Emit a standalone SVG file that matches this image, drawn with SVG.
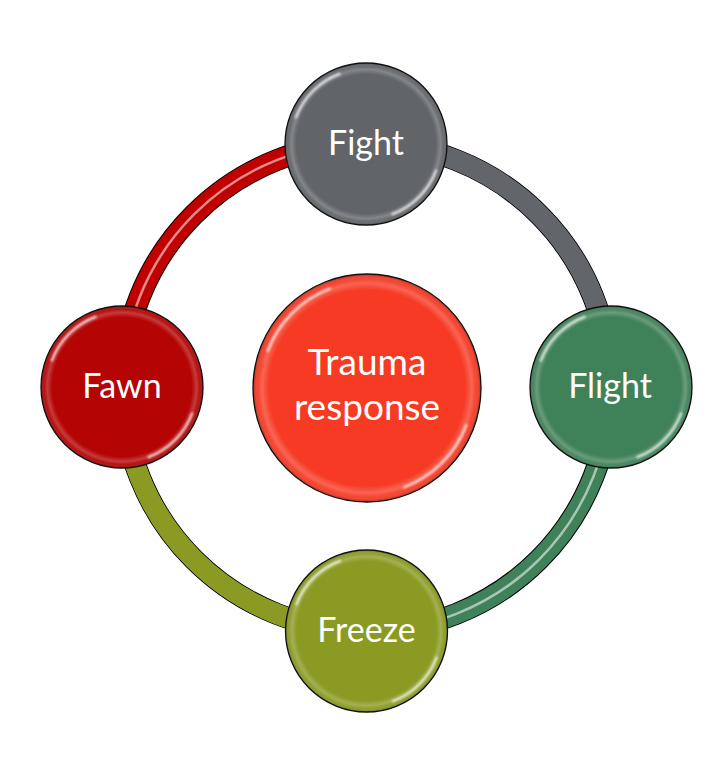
<svg xmlns="http://www.w3.org/2000/svg" width="714" height="758" viewBox="0 0 714 758">
<defs>
<radialGradient id="bevel" cx="0.5" cy="0.5" r="0.5">
<stop offset="0" stop-color="#fff" stop-opacity="0"/>
<stop offset="0.86" stop-color="#fff" stop-opacity="0"/>
<stop offset="0.92" stop-color="#fff" stop-opacity="0.22"/>
<stop offset="0.96" stop-color="#fff" stop-opacity="0.05"/>
<stop offset="1" stop-color="#000" stop-opacity="0.3"/>
</radialGradient>
<filter id="soft" x="-10%" y="-10%" width="120%" height="120%"><feGaussianBlur stdDeviation="0.8"/></filter>
</defs>
<style>
.outline{fill:none;stroke:#000;stroke-width:22}
.tube{fill:none;stroke-width:20}
.edge{fill:none;stroke:#fff;stroke-width:18;opacity:0.18}
.shine{fill:none;stroke:#fff;stroke-width:2.5;opacity:0.55}
.node-fill{stroke:#111;stroke-width:1.3}
.bev{fill:url(#bevel)}
.spec{fill:none;stroke:#fff;stroke-width:2.5;stroke-opacity:0.75;stroke-dasharray:50 130;stroke-dashoffset:-20}
text{font-family:Lato,"Open Sans","Liberation Sans",sans-serif;fill:#fff;text-anchor:middle}
.lbl{font-size:34px}
.big{font-size:37px}
</style>
<rect width="714" height="758" fill="#fff"/>
<g id="connectors">
<path class="outline" d="M366.5,143 A244,244 0 0 1 610.5,387"/>
<path class="tube" stroke="#7a7c80" d="M366.5,143 A244,244 0 0 1 610.5,387"/>
<path class="tube" stroke="#626569" stroke-width="15" d="M366.5,143 A244,244 0 0 1 610.5,387"/>
<path class="outline" d="M610.5,387 A244,244 0 0 1 366.5,631"/>
<path class="tube" stroke="#3f8158" d="M610.5,387 A244,244 0 0 1 366.5,631"/>
<path class="shine" d="M610.5,387 A244,244 0 0 1 366.5,631"/>
<path class="outline" d="M366.5,631 A244,244 0 0 1 122.5,387"/>
<path class="tube" stroke="#a3b04a" d="M366.5,631 A244,244 0 0 1 122.5,387"/>
<path class="tube" stroke="#8a9a22" stroke-width="15" d="M366.5,631 A244,244 0 0 1 122.5,387"/>
<path class="outline" d="M122.5,387 A244,244 0 0 1 366.5,143"/>
<path class="tube" stroke="#c00000" d="M122.5,387 A244,244 0 0 1 366.5,143"/>
<path class="shine" d="M122.5,387 A244,244 0 0 1 366.5,143"/>
</g>
<g id="center">
<circle class="node-fill" cx="367" cy="388" r="114" fill="#f63a24"/>
<circle class="bev" cx="367" cy="388" r="114"/>
<circle class="spec" cx="367" cy="388" r="106" pathLength="360" filter="url(#soft)"/>
<text class="big" x="367" y="375">Trauma</text>
<text class="big" x="367" y="420">response</text>
</g>
<g id="fight">
<circle class="node-fill" cx="366" cy="144" r="81" fill="#616468"/>
<circle class="bev" cx="366" cy="144" r="81"/>
<circle class="spec" cx="366" cy="144" r="75" pathLength="360" filter="url(#soft)"/>
<text class="lbl" x="366" y="155">Fight</text>
</g>
<g id="flight">
<circle class="node-fill" cx="611" cy="387" r="81" fill="#3f8158"/>
<circle class="bev" cx="611" cy="387" r="81"/>
<circle class="spec" cx="611" cy="387" r="75" pathLength="360" filter="url(#soft)"/>
<text class="lbl" x="610" y="398">Flight</text>
</g>
<g id="freeze">
<circle class="node-fill" cx="366.5" cy="631" r="81" fill="#8a9a22"/>
<circle class="bev" cx="366.5" cy="631" r="81"/>
<circle class="spec" cx="366.5" cy="631" r="75" pathLength="360" filter="url(#soft)"/>
<text class="lbl" x="366.5" y="642">Freeze</text>
</g>
<g id="fawn">
<circle class="node-fill" cx="122" cy="387" r="81" fill="#b40404"/>
<circle class="bev" cx="122" cy="387" r="81"/>
<circle class="spec" cx="122" cy="387" r="75" pathLength="360" filter="url(#soft)"/>
<text class="lbl" x="122" y="398">Fawn</text>
</g>
</svg>
